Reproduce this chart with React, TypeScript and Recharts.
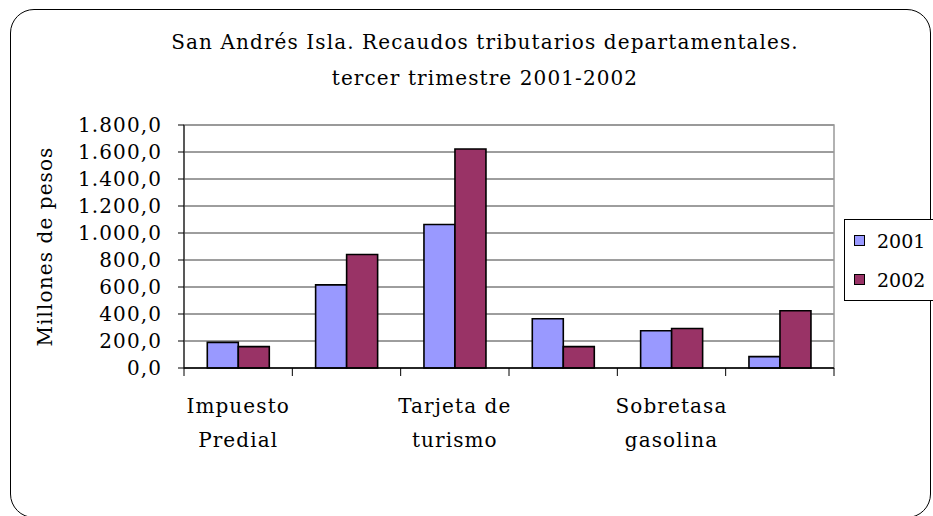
import React from 'react';
import {
  Bar,
  BarChart,
  CartesianGrid,
  Legend,
  ReferenceArea,
  XAxis,
  YAxis,
} from 'recharts';

// categorias (solo se rotulan la 1a, 3a y 5a, como en el original)
const categories = [
  'Impuesto Predial',
  'Registro y anotación',
  'Tarjeta de turismo',
  'Vehículos automotores',
  'Sobretasa gasolina',
  'Otros',
];
const values2001 = [190, 616, 1063, 365, 276, 84];
const values2002 = [158, 841, 1622, 158, 293, 424];
const yTicks = [0, 200, 400, 600, 800, 1000, 1200, 1400, 1600, 1800];

const data = categories.map((name, i) => ({
  name,
  y2001: values2001[i],
  y2002: values2002[i],
}));

const FONT = '"DejaVu Serif", serif';
const SPACING = 1.1;

const fmt = (v: number) =>
  v
    .toFixed(1)
    .replace('.', ',')
    .replace(/\B(?=(\d{3})+(?!\d))/, '.');

// etiqueta en dos lineas + marcas en los limites de cada categoria
const CategoryTick = (props: any) => {
  const { x, y, payload, index } = props;
  const half = payload.offset || 650 / 12;
  const text: string = payload.value;
  const cut = text.lastIndexOf(' ');
  const lines = [text.slice(0, cut), text.slice(cut + 1)];
  const isLast = index === categories.length - 1;
  return (
    <g>
      <line x1={x - half} x2={x - half} y1={y} y2={y + 8} stroke='#000' />
      {isLast && (
        <line x1={x + half} x2={x + half} y1={y} y2={y + 8} stroke='#000' />
      )}
      {index % 2 === 0 &&
        lines.map((l, i) => (
          <text
            key={i}
            x={x}
            y={y + 45 + i * 34}
            textAnchor='middle'
            fontFamily={FONT}
            fontSize={20}
            letterSpacing={SPACING}
            fill='#000'
          >
            {l}
          </text>
        ))}
    </g>
  );
};

const LegendBox = (props: any) => {
  const items = props.payload || [];
  return (
    <div
      style={{
        border: '1px solid #000',
        background: '#fff',
        padding: '1px 6px 1px 9px',
        fontFamily: FONT,
        fontSize: 19,
        width: 95,
        boxSizing: 'border-box',
      }}
    >
      {items.map((it: any) => (
        <div
          key={it.value}
          style={{ display: 'flex', alignItems: 'center', height: 39 }}
        >
          <span
            style={{
              width: 9,
              height: 9,
              background: it.color,
              border: '1.5px solid #000',
              marginRight: 12,
            }}
          />
          <span>{it.value}</span>
        </div>
      ))}
    </div>
  );
};

const App = () => {
  return (
    <div
      style={{
        position: 'absolute',
        left: 0,
        top: 0,
        width: 933,
        height: 516,
        overflow: 'hidden',
        background: '#fff',
        fontFamily: FONT,
      }}
    >
      <div
        style={{
          position: 'absolute',
          left: 10,
          top: 9,
          width: 921,
          height: 509,
          border: '1px solid #000',
          borderRadius: 24,
          boxSizing: 'border-box',
        }}
      />
      <div
        style={{
          position: 'absolute',
          left: 0,
          width: 970,
          top: 24,
          textAlign: 'center',
          fontSize: 20,
          letterSpacing: SPACING,
          lineHeight: '36px',
          color: '#000',
        }}
      >
        San Andrés Isla. Recaudos tributarios departamentales.
        <br />
        tercer trimestre 2001-2002
      </div>
      <div style={{ position: 'absolute', left: 0, top: 0 }}>
        <BarChart
          width={933}
          height={516}
          data={data}
          margin={{ top: 125, right: 99, bottom: 48, left: 0 }}
          barCategoryGap='21.5%'
          barGap={0}
        >
          <CartesianGrid
            horizontal
            vertical={false}
            stroke='#3c3c3c'
            strokeWidth={1}
          />
          <ReferenceArea
            y1={0}
            y2={1800}
            fill='none'
            stroke='#999'
            strokeWidth={1.5}
          />
          <XAxis
            dataKey='name'
            height={100}
            axisLine={{ stroke: '#000', strokeWidth: 1.5 }}
            tickLine={false}
            tickSize={0}
            tickMargin={0}
            interval={0}
            tick={<CategoryTick />}
          />
          <YAxis
            width={184}
            domain={[0, 1800]}
            ticks={yTicks}
            interval={0}
            tickFormatter={fmt}
            axisLine={{ stroke: '#000' }}
            tickLine={{ stroke: '#000' }}
            tickSize={6}
            tickMargin={16}
            tick={{
              fill: '#000',
              fontFamily: FONT,
              fontSize: 20,
              letterSpacing: SPACING,
            }}
            label={{
              value: 'Millones de pesos',
              angle: -90,
              position: 'center',
              dx: -47,
              fill: '#000',
              fontFamily: FONT,
              fontSize: 20,
              letterSpacing: SPACING,
            }}
          />
          <Legend
            layout='horizontal'
            verticalAlign='middle'
            align='center'
            content={<LegendBox />}
            wrapperStyle={{ left: 844, top: 219, width: 95 }}
          />
          <Bar
            dataKey='y2001'
            name='2001'
            fill='#9999FF'
            stroke='#000'
            strokeWidth={1.6}
            isAnimationActive={false}
          />
          <Bar
            dataKey='y2002'
            name='2002'
            fill='#993366'
            stroke='#000'
            strokeWidth={1.6}
            isAnimationActive={false}
          />
        </BarChart>
      </div>
    </div>
  );
};

export default App;
